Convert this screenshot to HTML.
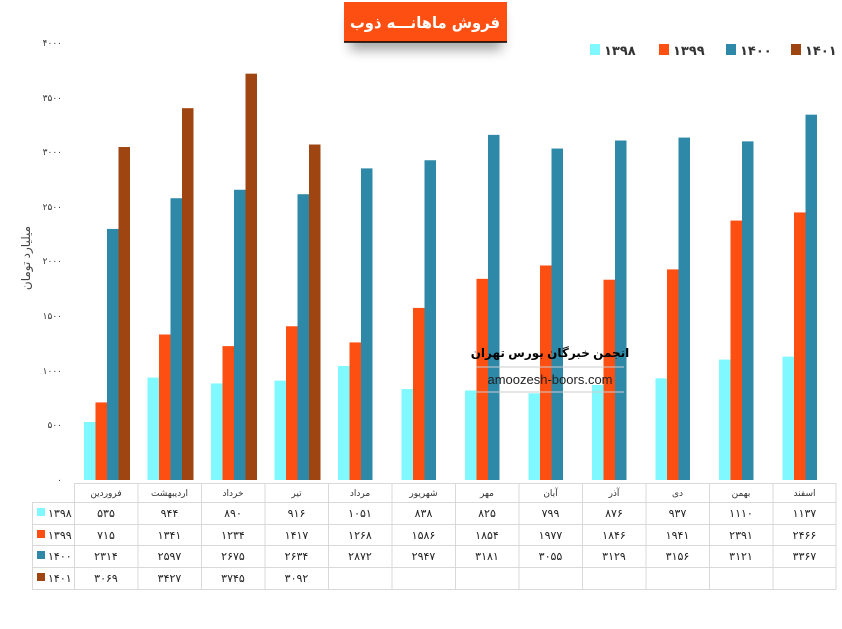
<!DOCTYPE html>
<html><head><meta charset="utf-8"><style>
body{margin:0;background:#fff;width:842px;height:629px;overflow:hidden;}
svg{display:block;font-family:"Liberation Sans","DejaVu Sans",sans-serif;}
</style></head><body>
<svg width="842" height="629" viewBox="0 0 842 629">
<defs><filter id="sh" x="-30%" y="-30%" width="160%" height="200%"><feGaussianBlur stdDeviation="6"/></filter></defs>
<!-- title -->
<rect x="350" y="14" width="152" height="36" fill="#000" opacity="0.35" filter="url(#sh)"/>
<rect x="344" y="2" width="163" height="40" fill="#fe4f12"/>
<line x1="344" y1="42" x2="507" y2="42" stroke="#000" stroke-width="1.5"/>
<text x="350" y="28" font-size="16" font-weight="bold" fill="#fff" textLength="150" lengthAdjust="spacingAndGlyphs" font-family="'DejaVu Sans',sans-serif">فروش ماهانـــه ذوب</text>
<!-- legend -->
<g font-size="13" font-weight="bold" fill="#333">
<rect x="590" y="44" width="10" height="11" fill="#7ff8ff"/><text x="604" y="55">۱۳۹۸</text>
<rect x="659" y="44" width="10" height="11" fill="#fe4f12"/><text x="673" y="55">۱۳۹۹</text>
<rect x="726" y="44" width="10" height="11" fill="#2e89a8"/><text x="740" y="55">۱۴۰۰</text>
<rect x="791" y="44" width="10" height="11" fill="#9f4512"/><text x="805" y="55">۱۴۰۱</text>
</g>
<!-- y ticks -->
<g font-size="9" fill="#333" text-anchor="end">
<text x="62" y="46">۴۰۰۰</text><text x="62" y="101">۳۵۰۰</text><text x="62" y="155">۳۰۰۰</text><text x="62" y="210">۲۵۰۰</text><text x="62" y="264">۲۰۰۰</text><text x="62" y="319">۱۵۰۰</text><text x="62" y="374">۱۰۰۰</text><text x="62" y="428">۵۰۰</text><text x="62" y="483">۰</text>
</g>
<text transform="translate(30,258) rotate(-90)" text-anchor="middle" font-size="12" fill="#444">میلیارد تومان</text>
<!-- bars -->
<g id="bars">
<g transform="translate(74,480) scale(1,-0.1085)"><rect x="10" y="0" width="11.5" height="535" fill="#7ff8ff"/><rect x="21.5" y="0" width="11.5" height="715" fill="#fe4f12"/><rect x="33" y="0" width="11.5" height="2314" fill="#2e89a8"/><rect x="44.5" y="0" width="11.5" height="3069" fill="#9f4512"/></g>
<g transform="translate(137.5,480) scale(1,-0.1085)"><rect x="10" y="0" width="11.5" height="944" fill="#7ff8ff"/><rect x="21.5" y="0" width="11.5" height="1341" fill="#fe4f12"/><rect x="33" y="0" width="11.5" height="2597" fill="#2e89a8"/><rect x="44.5" y="0" width="11.5" height="3427" fill="#9f4512"/></g>
<g transform="translate(201,480) scale(1,-0.1085)"><rect x="10" y="0" width="11.5" height="890" fill="#7ff8ff"/><rect x="21.5" y="0" width="11.5" height="1234" fill="#fe4f12"/><rect x="33" y="0" width="11.5" height="2675" fill="#2e89a8"/><rect x="44.5" y="0" width="11.5" height="3745" fill="#9f4512"/></g>
<g transform="translate(264.5,480) scale(1,-0.1085)"><rect x="10" y="0" width="11.5" height="916" fill="#7ff8ff"/><rect x="21.5" y="0" width="11.5" height="1417" fill="#fe4f12"/><rect x="33" y="0" width="11.5" height="2634" fill="#2e89a8"/><rect x="44.5" y="0" width="11.5" height="3092" fill="#9f4512"/></g>
<g transform="translate(328,480) scale(1,-0.1085)"><rect x="10" y="0" width="11.5" height="1051" fill="#7ff8ff"/><rect x="21.5" y="0" width="11.5" height="1268" fill="#fe4f12"/><rect x="33" y="0" width="11.5" height="2872" fill="#2e89a8"/></g>
<g transform="translate(391.5,480) scale(1,-0.1085)"><rect x="10" y="0" width="11.5" height="838" fill="#7ff8ff"/><rect x="21.5" y="0" width="11.5" height="1586" fill="#fe4f12"/><rect x="33" y="0" width="11.5" height="2947" fill="#2e89a8"/></g>
<g transform="translate(455,480) scale(1,-0.1085)"><rect x="10" y="0" width="11.5" height="825" fill="#7ff8ff"/><rect x="21.5" y="0" width="11.5" height="1854" fill="#fe4f12"/><rect x="33" y="0" width="11.5" height="3181" fill="#2e89a8"/></g>
<g transform="translate(518.5,480) scale(1,-0.1085)"><rect x="10" y="0" width="11.5" height="799" fill="#7ff8ff"/><rect x="21.5" y="0" width="11.5" height="1977" fill="#fe4f12"/><rect x="33" y="0" width="11.5" height="3055" fill="#2e89a8"/></g>
<g transform="translate(582,480) scale(1,-0.1085)"><rect x="10" y="0" width="11.5" height="876" fill="#7ff8ff"/><rect x="21.5" y="0" width="11.5" height="1846" fill="#fe4f12"/><rect x="33" y="0" width="11.5" height="3129" fill="#2e89a8"/></g>
<g transform="translate(645.5,480) scale(1,-0.1085)"><rect x="10" y="0" width="11.5" height="937" fill="#7ff8ff"/><rect x="21.5" y="0" width="11.5" height="1941" fill="#fe4f12"/><rect x="33" y="0" width="11.5" height="3156" fill="#2e89a8"/></g>
<g transform="translate(709,480) scale(1,-0.1085)"><rect x="10" y="0" width="11.5" height="1110" fill="#7ff8ff"/><rect x="21.5" y="0" width="11.5" height="2391" fill="#fe4f12"/><rect x="33" y="0" width="11.5" height="3121" fill="#2e89a8"/></g>
<g transform="translate(772.5,480) scale(1,-0.1085)"><rect x="10" y="0" width="11.5" height="1137" fill="#7ff8ff"/><rect x="21.5" y="0" width="11.5" height="2466" fill="#fe4f12"/><rect x="33" y="0" width="11.5" height="3367" fill="#2e89a8"/></g>
</g>
<!-- watermark -->
<line x1="476" y1="367" x2="624" y2="367" stroke="#ccc"/>
<line x1="476" y1="392" x2="624" y2="392" stroke="#ccc"/>
<text x="550" y="357" text-anchor="middle" font-size="12" font-weight="bold" fill="#000">انجمن خبرگان بورس تهران</text>
<text x="550" y="384" text-anchor="middle" font-size="13" fill="#222">amoozesh-boors.com</text>
<!-- table grid -->
<g stroke="#d9d9d9" stroke-width="1">
<line x1="74" y1="483.5" x2="836" y2="483.5"/>
<line x1="32" y1="502.5" x2="836" y2="502.5"/>
<line x1="32" y1="524.5" x2="836" y2="524.5"/>
<line x1="32" y1="545.5" x2="836" y2="545.5"/>
<line x1="32" y1="567.5" x2="836" y2="567.5"/>
<line x1="32" y1="589.5" x2="836" y2="589.5"/>
<line x1="32.5" y1="502" x2="32.5" y2="590"/>
<line x1="74.5" y1="483" x2="74.5" y2="590"/><line x1="138" y1="483" x2="138" y2="590"/><line x1="201.5" y1="483" x2="201.5" y2="590"/><line x1="265" y1="483" x2="265" y2="590"/><line x1="328.5" y1="483" x2="328.5" y2="590"/><line x1="392" y1="483" x2="392" y2="590"/><line x1="455.5" y1="483" x2="455.5" y2="590"/><line x1="519" y1="483" x2="519" y2="590"/><line x1="582.5" y1="483" x2="582.5" y2="590"/><line x1="646" y1="483" x2="646" y2="590"/><line x1="709.5" y1="483" x2="709.5" y2="590"/><line x1="773" y1="483" x2="773" y2="590"/><line x1="836" y1="483" x2="836" y2="590"/>
</g>
<g font-size="9" fill="#333" text-anchor="middle">
<text x="106" y="496">فروردین</text><text x="169.5" y="496">اردیبهشت</text><text x="233" y="496">خرداد</text><text x="296.5" y="496">تیر</text><text x="360" y="496">مرداد</text><text x="423.5" y="496">شهریور</text><text x="487" y="496">مهر</text><text x="550.5" y="496">آبان</text><text x="614" y="496">آذر</text><text x="677.5" y="496">دی</text><text x="741" y="496">بهمن</text><text x="804.5" y="496">اسفند</text>
</g>
<g font-size="11" fill="#222" text-anchor="middle">
<text x="106" y="517">۵۳۵</text><text x="169.5" y="517">۹۴۴</text><text x="233" y="517">۸۹۰</text><text x="296.5" y="517">۹۱۶</text><text x="360" y="517">۱۰۵۱</text><text x="423.5" y="517">۸۳۸</text><text x="487" y="517">۸۲۵</text><text x="550.5" y="517">۷۹۹</text><text x="614" y="517">۸۷۶</text><text x="677.5" y="517">۹۳۷</text><text x="741" y="517">۱۱۱۰</text><text x="804.5" y="517">۱۱۳۷</text>
<text x="106" y="539">۷۱۵</text><text x="169.5" y="539">۱۳۴۱</text><text x="233" y="539">۱۲۳۴</text><text x="296.5" y="539">۱۴۱۷</text><text x="360" y="539">۱۲۶۸</text><text x="423.5" y="539">۱۵۸۶</text><text x="487" y="539">۱۸۵۴</text><text x="550.5" y="539">۱۹۷۷</text><text x="614" y="539">۱۸۴۶</text><text x="677.5" y="539">۱۹۴۱</text><text x="741" y="539">۲۳۹۱</text><text x="804.5" y="539">۲۴۶۶</text>
<text x="106" y="560">۲۳۱۴</text><text x="169.5" y="560">۲۵۹۷</text><text x="233" y="560">۲۶۷۵</text><text x="296.5" y="560">۲۶۳۴</text><text x="360" y="560">۲۸۷۲</text><text x="423.5" y="560">۲۹۴۷</text><text x="487" y="560">۳۱۸۱</text><text x="550.5" y="560">۳۰۵۵</text><text x="614" y="560">۳۱۲۹</text><text x="677.5" y="560">۳۱۵۶</text><text x="741" y="560">۳۱۲۱</text><text x="804.5" y="560">۳۳۶۷</text>
<text x="106" y="582">۳۰۶۹</text><text x="169.5" y="582">۳۴۲۷</text><text x="233" y="582">۳۷۴۵</text><text x="296.5" y="582">۳۰۹۲</text>
</g>
<g font-size="11" fill="#222">
<rect x="37" y="508" width="8" height="8" fill="#7ff8ff"/><text x="48" y="517">۱۳۹۸</text>
<rect x="37" y="530" width="8" height="8" fill="#fe4f12"/><text x="48" y="539">۱۳۹۹</text>
<rect x="37" y="551" width="8" height="8" fill="#2e89a8"/><text x="48" y="560">۱۴۰۰</text>
<rect x="37" y="573" width="8" height="8" fill="#9f4512"/><text x="48" y="582">۱۴۰۱</text>
</g>
</svg>
</body></html>
